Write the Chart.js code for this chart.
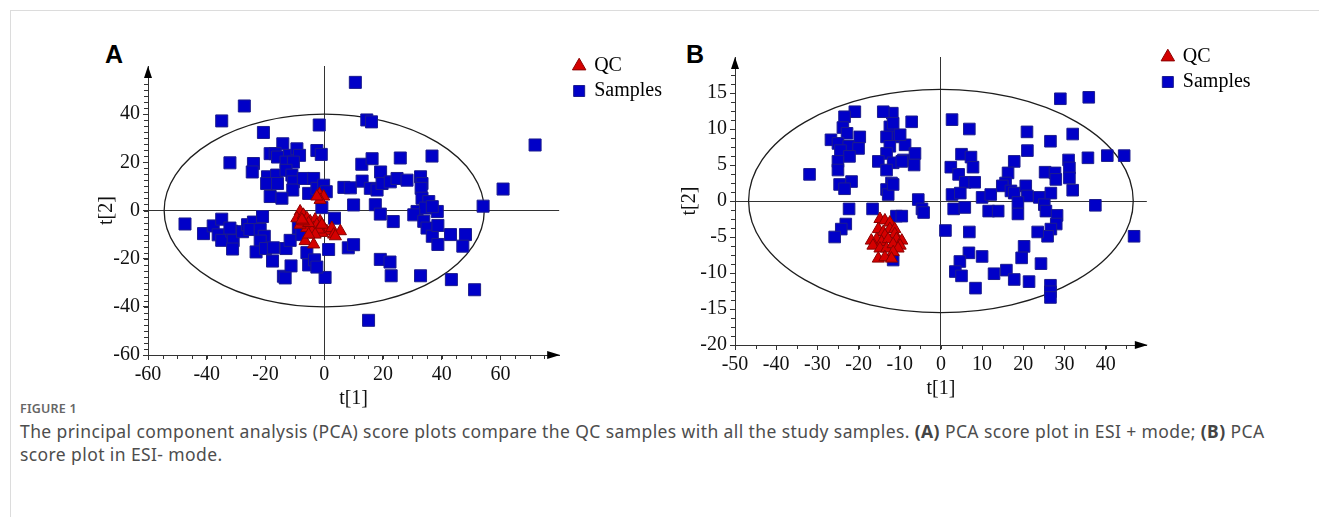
<!DOCTYPE html>
<html>
<head>
<meta charset="utf-8">
<title>PCA score plots</title>
<script src="https://cdn.jsdelivr.net/npm/chart.js@4.4.1/dist/chart.umd.min.js"></script>
<style>
  html, body { margin: 0; padding: 0; background: #fff; }
  body { width: 1319px; height: 517px; position: relative; overflow: hidden; font-family: "Noto Sans", sans-serif; }
  .frame { position: absolute; left: 10px; top: 10px; width: 1320px; height: 520px; border-top: 1px solid #dcdcdc; border-left: 1px solid #dcdcdc; }
  .panel { position: absolute; font-family: "Liberation Sans", Arial, sans-serif; font-weight: bold; font-size: 25px; line-height: 25px; color: #000; }
  canvas { position: absolute; }
  .fig-label { position: absolute; left: 20px; top: 401px; font-size: 12.5px; line-height: 16px; font-weight: 600; color: #666; letter-spacing: 0.2px; }
  .caption { position: absolute; left: 20px; top: 420px; font-size: 17.5px; line-height: 23px; letter-spacing: 0.4px; color: #4d4d4d; white-space: nowrap; }
  .caption b { font-weight: bold; color: #444; }
</style>
</head>
<body>
<div class="frame"></div>
<div class="panel" style="left:105px; top:42px">A</div>
<div class="panel" style="left:686px; top:42px">B</div>
<canvas id="pcaA" width="587" height="360" style="left:80px; top:51px"></canvas>
<canvas id="pcaB" width="583" height="359" style="left:672px; top:42px"></canvas>
<div class="fig-label">FIGURE 1</div>
<div class="caption">The principal component analysis (PCA) score plots compare the QC samples with all the study samples. <b>(A)</b> PCA score plot in ESI + mode; <b>(B)</b> PCA<br>score plot in ESI- mode.</div>

<script>
// scores: [t[1], t[2]]
const qcA = [
  [-1.6,6.7],[-0.2,5.8],[-1.4,4.4],[-2.5,5.8],
  [-8.2,-0.4],[-9.3,-3.2],[-7.1,-1.8],[-5.9,-3.2],[-4.8,-4.5],[-3.1,-3.8],[-1.4,-4.5],[-3.6,-7.3],
  [-5.9,-7.3],[-8.2,-5.9],[-2.5,-5.9],[-0.2,-7.3],[0.9,-8.6],[2.6,-7.3],[5.5,-8.6],[3.2,-10.0],
  [3.8,-10.7],[-6.5,-12.7],[-3.6,-14.1],[-0.8,-9.3],[-4.2,-8.6],[-5.3,-5.2],[-7.1,-4.5],[-1.9,-7.9],
  [-7.6,-3.8],[-3.1,-10.0],[-5.3,-10.0],[-0.8,-5.9]
];
const samplesA = [
  [10.6,53.2],[-27.2,43.4],[-34.9,37.2],[-1.7,35.5],[-20.7,32.4],[14.5,37.6],[16.1,36.8],
  [-32.1,19.8],[-24.1,19.5],[-24.5,16.0],
  [-14.1,27.7],[-18.4,23.6],[-16.7,23.6],[-15.9,22.2],[-11.8,22.9],[-9.3,25.6],[-8.4,22.9],[-13.0,20.1],[-10.5,20.1],
  [-2.5,24.9],[-1.0,23.3],
  [-19.3,14.0],[-16.2,14.7],[-19.6,11.2],[-15.9,11.2],[-13.0,16.7],[-11.0,14.7],[-10.5,11.9],[-10.7,8.5],
  [-7.1,13.3],[-3.6,13.3],[-18.4,5.8],[-14.4,5.1],[-5.3,7.1],[-2.5,9.2],[-0.2,10.5],[0.7,7.8],[-0.8,1.2],
  [6.7,9.6],[8.9,9.4],[10.0,2.3],
  [12.8,19.2],[16.3,21.5],[19.2,16.0],[25.9,21.8],[36.7,22.6],
  [12.9,12.2],[15.7,9.2],[18.0,8.5],[19.7,11.2],[22.5,11.9],[24.8,13.3],[28.2,12.6],[32.8,14.0],[33.3,11.2],
  [33.0,9.2],[33.3,5.1],[35.6,3.7],[38.5,-0.4],[31.6,-0.4],[34.5,1.0],[36.8,1.6],
  [71.8,27.2],[60.9,8.9],[54.1,1.8],[17.4,2.4],[19.1,-1.5],[23.5,-4.6],[30.5,-1.8],[3.5,-3.2],
  [33.9,-4.5],[35.0,-7.3],[36.8,-10.7],[38.7,-6.2],[38.7,-14.1],[43.0,-10.0],[48.1,-10.0],[47.2,-14.8],
  [1.5,-16.2],[8.2,-15.5],[10.0,-14.2],[19.1,-20.3],[22.4,-21.4],[22.8,-27.1],[32.8,-27.1],[43.3,-28.7],
  [51.2,-32.9],[15.1,-45.6],[0.3,-27.8],
  [-5.9,-17.5],[-5.3,-22.6],[-3.3,-20.5],[-2.5,-23.5],
  [-47.4,-5.6],[-41.1,-9.6],[-37.8,-6.4],[-34.9,-3.6],[-36.1,-10.1],[-34.9,-12.4],[-31.5,-8.6],[-32.1,-7.3],
  [-31.0,-12.5],[-31.2,-16.0],[-27.8,-8.8],[-26.1,-5.9],[-24.1,-4.8],[-25.3,-7.9],[-21.8,-7.9],[-21.0,-2.5],
  [-20.4,-10.7],[-21.8,-12.7],[-23.2,-17.2],[-20.0,-15.8],[-17.3,-15.5],[-17.6,-21.0],[-13.9,-27.3],[-13.3,-28.0],
  [-11.3,-23.0],[-13.0,-15.8],[-11.6,-12.4],[-8.8,-7.3],[-7.6,-10.0]
];
const qcB = [
  [-14.8,-2.5],[-13.6,-2.7],[-12.4,-3.0],[-15.2,-3.9],[-14.0,-4.3],[-12.4,-3.9],[-11.2,-3.9],[-11.2,-4.6],
  [-13.6,-4.8],[-15.6,-5.3],[-14.4,-5.7],[-12.8,-5.3],[-10.8,-5.3],[-16.9,-5.5],[-9.5,-5.5],[-9.9,-6.2],
  [-16.5,-6.2],[-14.8,-6.6],[-13.2,-6.6],[-11.6,-6.0],[-10.4,-6.6],[-11.6,-7.1],[-15.2,-8.0],[-13.6,-7.8],
  [-12.0,-8.0]
];
const samplesB = [
  [-31.9,3.7],[-20.9,12.4],[-23.4,11.7],[-23.8,10.2],[-22.8,9.4],[-26.7,8.5],[-25.0,8.0],[-22.4,7.6],
  [-19.7,8.9],[-20.0,7.3],[-24.4,7.0],[-22.2,6.2],[-25.0,5.5],[-25.0,4.3],[-24.6,2.3],[-21.7,2.7],
  [-23.4,1.7],[-22.3,-1.1],[-23.1,-3.2],[-24.2,-3.9],[-25.8,-5.0],
  [-11.8,12.2],[-14.0,12.4],[-7.1,11.0],[-12.4,10.3],[-11.6,10.8],[-13.2,8.9],[-10.4,8.9],[-8.7,7.8],
  [-12.4,7.6],[-13.2,6.6],[-9.9,9.2],[-9.1,5.7],[-11.6,5.3],[-15.2,5.5],[-13.2,4.3],[-6.3,6.6],
  [-6.5,5.0],[-9.5,5.5],[-12.0,2.5],[-13.2,1.6],[-12.8,0.9],[-11.6,2.3],[-5.5,0.2],[-4.6,-1.1],
  [-4.2,-1.6],[-16.6,-1.1],[-10.8,-2.1],[-9.5,-2.1],[-11.6,-8.2],
  [29.0,14.2],[35.9,14.4],[2.7,11.3],[6.9,10.0],[20.9,9.6],[32.0,9.3],[26.6,8.3],[21.0,7.0],
  [35.7,6.0],[40.4,6.3],[44.5,6.3],[31.0,5.7],[31.2,4.6],[31.2,3.2],[5.0,6.5],[7.3,6.1],
  [7.8,4.7],[2.4,4.7],[4.3,3.7],[5.9,2.6],[8.2,2.6],[17.8,5.5],[16.3,3.9],[15.7,2.5],
  [14.9,2.1],[25.3,4.0],[27.7,3.9],[27.9,3.0],[32.0,1.5],[2.7,0.9],[4.7,1.1],[3.1,-1.1],
  [5.8,-0.9],[10.0,0.5],[12.1,0.9],[11.6,-1.4],[13.9,-1.4],[17.0,1.4],[17.8,1.1],[20.6,2.1],
  [21.0,0.7],[18.7,-0.2],[18.7,-1.8],[23.9,0.5],[25.1,-0.5],[26.7,1.1],[25.5,-1.4],[28.2,-2.0],
  [37.5,-0.6],[28.0,-3.2],[26.7,-3.9],[25.9,-4.9],[23.5,-4.3],[1.1,-4.1],[6.9,-4.3],[46.9,-4.9],
  [20.2,-6.3],[19.6,-7.9],[24.3,-8.7],[6.8,-7.2],[4.6,-8.4],[3.5,-9.8],[5.0,-10.4],[10.0,-7.7],
  [12.9,-10.1],[15.9,-9.6],[17.8,-10.9],[8.4,-12.1],[21.4,-11.2],[26.6,-11.7],[26.6,-12.6],[26.6,-13.4]
];

// tick labels
const ticksAx = [-60, -40, -20, 0, 20, 40, 60];
const ticksAy = [-60, -40, -20, 0, 20, 40];
const ticksBx = [-50, -40, -30, -20, -10, 0, 10, 20, 30, 40];
const ticksBy = [-20, -15, -10, -5, 0, 5, 10, 15];

// Hotelling T2 ellipse half-axes (t[1], t[2])
const ellipseA = [54.5, 40];
const ellipseB = [46.7, 15.5];

Chart.defaults.font.family = '"Liberation Serif", "Times New Roman", serif';
Chart.defaults.font.size = 20;
Chart.defaults.color = '#111';

// ellipse, minor ticks and axis arrows
const axisExtras = {
  id: 'axisExtras',
  beforeDatasetsDraw(chart, args, o) {
    const { ctx, scales: { x, y } } = chart;
    const cx = x.getPixelForValue(0), cy = y.getPixelForValue(0);
    ctx.save();
    ctx.strokeStyle = '#1e1e1e';
    ctx.lineWidth = 1.3;
    ctx.beginPath();
    ctx.ellipse(cx, cy, x.getPixelForValue(o.ellipse[0]) - cx, cy - y.getPixelForValue(o.ellipse[1]), 0, 0, Math.PI * 2);
    ctx.stroke();
    ctx.restore();
  },
  afterDraw(chart, args, o) {
    const { ctx, chartArea: a, scales: { x, y } } = chart;
    ctx.save();
    ctx.strokeStyle = '#333';
    ctx.lineWidth = 1;
    ctx.beginPath();
    for (let v = x.min + o.minorX; v < x.max; v += o.minorX) {
      const px = Math.round(x.getPixelForValue(v)) + 0.5;
      if (px > a.right - 14) break;
      ctx.moveTo(px, a.bottom);
      ctx.lineTo(px, a.bottom + 4);
    }
    for (let v = y.min + o.minorY; v < y.max; v += o.minorY) {
      const py = Math.round(y.getPixelForValue(v)) + 0.5;
      if (py < a.top + 14) break;
      ctx.moveTo(a.left, py);
      ctx.lineTo(a.left - 4, py);
    }
    ctx.stroke();
    ctx.fillStyle = '#000';
    ctx.beginPath();
    ctx.moveTo(a.right + 1, a.bottom);
    ctx.lineTo(a.right - 12, a.bottom - 4);
    ctx.lineTo(a.right - 12, a.bottom + 4);
    ctx.closePath();
    ctx.moveTo(a.left, a.top);
    ctx.lineTo(a.left - 4, a.top + 12);
    ctx.lineTo(a.left + 4, a.top + 12);
    ctx.closePath();
    ctx.fill();
    ctx.restore();
  }
};

function axisOptions(min, max, ticks, title, titlePad, size, isX) {
  return {
    type: 'linear',
    position: isX ? 'bottom' : 'left',
    min: min,
    max: max,
    afterBuildTicks: s => { s.ticks = ticks.map(v => ({ value: v })); },
    afterFit: s => { if (isX) s.height = size; else s.width = size; },
    ticks: { padding: 3, color: '#111' },
    grid: {
      color: c => (c.tick && c.tick.value === 0 ? '#333' : 'rgba(0,0,0,0)'),
      tickColor: '#333',
      tickLength: 5,
      lineWidth: 1
    },
    border: { display: true, color: '#333', width: 1 },
    title: { display: true, text: title, color: '#111', padding: isX ? { top: 0, bottom: titlePad } : { top: titlePad, bottom: 0 } }
  };
}

// empty boxes used only to leave room around the plot area
function spacer(pos, size) {
  return {
    position: pos,
    display: true,
    afterFit: s => { if (pos === 'top') s.height = size; else s.width = size; },
    ticks: { display: false },
    grid: { display: false },
    border: { display: false }
  };
}

function drawPanel(id, p) {
  return new Chart(document.getElementById(id), {
    type: 'scatter',
    data: {
      datasets: [
        {
          label: 'QC', data: p.qc, xAxisID: 'x', yAxisID: 'y',
          pointStyle: 'triangle', pointRadius: p.triR,
          backgroundColor: '#d40000', borderColor: '#8a0000', borderWidth: 1
        },
        {
          label: 'Samples', data: p.samples, xAxisID: 'x', yAxisID: 'y',
          pointStyle: 'rect', pointRadius: p.sqR,
          backgroundColor: '#0000c8', borderColor: '#1c1c8f', borderWidth: 1
        }
      ]
    },
    options: {
      responsive: false,
      animation: false,
      events: [],
      layout: { padding: 0 },
      scales: {
        x: axisOptions(p.xr[0], p.xr[1], p.xTicks, 't[1]', 0, 56, true),
        y: axisOptions(p.yr[0], p.yr[1], p.yTicks, 't[2]', p.yTitlePad, p.yWidth, false),
        xTop: spacer('top', p.topGap),
        yRight: spacer('right', p.rightGap)
      },
      plugins: {
        legend: {
          position: 'right',
          align: 'start',
          labels: { usePointStyle: true, boxWidth: 10, boxHeight: 11, padding: 5, color: '#000' }
        },
        tooltip: { enabled: false },
        axisExtras: { ellipse: p.ellipse, minorX: p.minorX, minorY: p.minorY }
      }
    },
    plugins: [axisExtras]
  });
}

drawPanel('pcaA', {
  qc: qcA, samples: samplesA, triR: 7, sqR: 8.5,
  xr: [-60, 80], yr: [-60, 60], xTicks: ticksAx, yTicks: ticksAy,
  ellipse: ellipseA, minorX: 5, minorY: 2.5,
  yWidth: 68, yTitlePad: 15, topGap: 12, rightGap: 10
});

drawPanel('pcaB', {
  qc: qcB, samples: samplesB, triR: 7, sqR: 8.2,
  xr: [-50, 50], yr: [-20, 20], xTicks: ticksBx, yTicks: ticksBy,
  ellipse: ellipseB, minorX: 5, minorY: 1.25,
  yWidth: 63, yTitlePad: 6, topGap: 11, rightGap: 11
});
</script>
</body>
</html>
